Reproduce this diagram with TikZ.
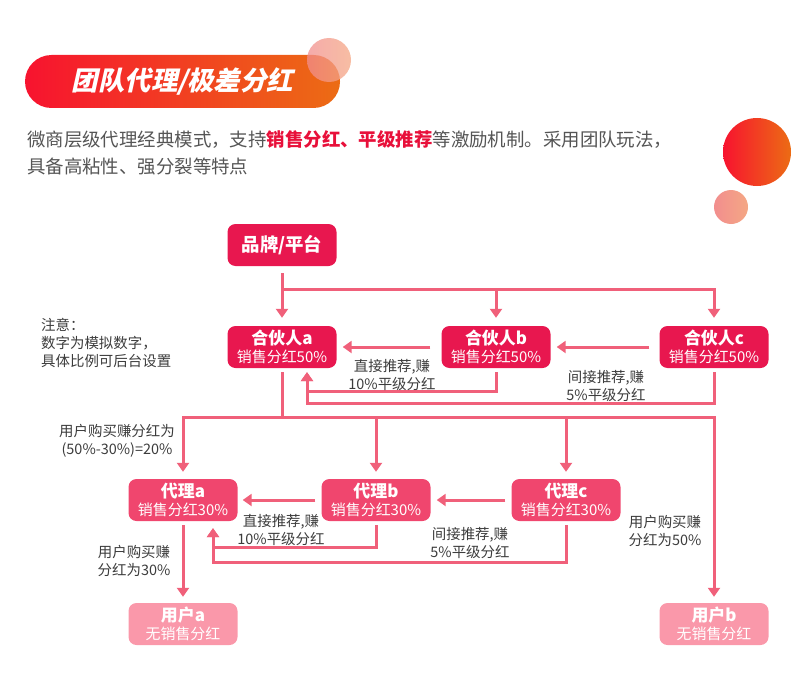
\documentclass[tikz,border=0pt]{standalone}
\usepackage{fontspec}
\setmainfont{Noto Sans CJK SC}
\newfontfamily\titlefont{Noto Sans CJK SC}[BoldFeatures={FakeSlant=0.22}]
\usetikzlibrary{arrows.meta,calc}
\definecolor{pillL}{HTML}{F7132F}
\definecolor{pillR}{HTML}{EC6C14}
\definecolor{peachL}{HTML}{F28E8E}
\definecolor{peachR}{HTML}{F4A784}
\definecolor{textgray}{HTML}{555555}
\definecolor{labelgray}{HTML}{3C3C3C}
\definecolor{hot}{HTML}{E8103A}
\definecolor{partnerred}{HTML}{E8174F}
\definecolor{agentpink}{HTML}{F0466E}
\definecolor{clientpink}{HTML}{FA98AA}
\definecolor{linkred}{HTML}{F0607A}
\begin{document}
\begin{tikzpicture}[x=1bp, y=-1bp,
    box/.style={rounded corners=8bp, minimum width=109bp, minimum height=42bp,
      inner sep=0pt, align=center, text=white, font=\fontsize{15}{18}\selectfont},
    partnerbox/.style={box, fill=partnerred},
    agentbox/.style={box, fill=agentpink},
    clientbox/.style={box, fill=clientpink},
    link/.style={draw=linkred, line width=3bp},
    flow/.style={link, -{Triangle[width=12bp,length=9bp]}},
    note/.style={text=labelgray, font=\fontsize{14.5}{18.5}\selectfont, align=center, inner sep=0pt}]
  \useasboundingbox (0,0) rectangle (800,693);

  % Cabecera
  \node[rounded corners=26.5bp, minimum width=315bp, minimum height=53bp, inner sep=0pt,
    left color=pillL, right color=pillR, text=white,
    font=\titlefont\bfseries\fontsize{26.5}{28}\selectfont] (title) at (182.5,81.5) {团队代理/极差分红};
  \shade[left color=peachL, right color=peachR, opacity=0.75] (329,60) circle (22);
  \shade[left color=pillL, right color=pillR] (757,152) circle (34);
  \shade[left color=peachL, right color=peachR] (731,207) circle (17);

  % Texto de descripcion
  \node[anchor=west, inner sep=0pt, text=textgray, font=\fontsize{18.5}{27}\selectfont] (desc) at (27,140)
    {微商层级代理经典模式，支持\textcolor{hot}{\bfseries 销售分红、平级推荐}等激励机制。采用团队玩法，};
  \node[anchor=west, inner sep=0pt, text=textgray, font=\fontsize{18.5}{27}\selectfont] (desc2) at (27,167)
    {具备高粘性、强分裂等特点};

  % Nota
  \node[note, anchor=west, align=left] (memo) at (41,343) {注意：\\数字为模拟数字，\\具体比例可后台设置};

  % Cajas
  \node[partnerbox, font=\bfseries\fontsize{18.5}{20}\selectfont] (brand) at (282,245) {品牌/平台};
  \node[partnerbox] (pa) at (282,347) {{\bfseries\fontsize{17}{18}\selectfont 合伙人a}\\销售分红50\%};
  \node[partnerbox] (pb) at (496,347) {{\bfseries\fontsize{17}{18}\selectfont 合伙人b}\\销售分红50\%};
  \node[partnerbox] (pc) at (714,347) {{\bfseries\fontsize{17}{18}\selectfont 合伙人c}\\销售分红50\%};
  \node[agentbox] (aa) at (183,500) {{\bfseries\fontsize{17}{18}\selectfont 代理a}\\销售分红30\%};
  \node[agentbox] (ab) at (376,500) {{\bfseries\fontsize{17}{18}\selectfont 代理b}\\销售分红30\%};
  \node[agentbox] (ac) at (566,500) {{\bfseries\fontsize{17}{18}\selectfont 代理c}\\销售分红30\%};
  \node[clientbox] (ua) at (183,624) {{\bfseries\fontsize{17}{18}\selectfont 用户a}\\无销售分红};
  \node[clientbox] (ub) at (714,624) {{\bfseries\fontsize{17}{18}\selectfont 用户b}\\无销售分红};

  % Del品牌 a los socios
  \coordinate (topbus) at (282,289);
  \draw[flow, shorten <=7bp, shorten >=8bp] (brand.south) -- (pa.north);
  \draw[flow, shorten >=8bp] (topbus) -| (pc.north);
  \draw[flow, shorten >=8bp] (topbus -| pb.north) -- (pb.north);

  % Recomendaciones entre socios
  \draw[flow, shorten <=10bp, shorten >=6bp] (pc.west) -- (pb.east);
  \draw[flow, shorten <=11bp, shorten >=6bp] (pb.west) -- (pa.east);
  \coordinate (backb) at (307,391);
  \coordinate (backc) at (307,403);
  \draw[flow, shorten <=4bp, shorten >=4bp] (pb.south) |- (backb) -- (backb |- pa.south);
  \draw[flow, shorten <=4bp, shorten >=4bp] (pc.south) |- (backc) -- (backc |- pa.south);
  \node[note] (directp) at (392,375) {直接推荐,赚\\10\%平级分红};
  \node[note] (indirectp) at (606,386) {间接推荐,赚\\5\%平级分红};

  % Del socio a los agentes
  \coordinate (midbus) at (282,417);
  \draw[link, shorten <=4bp] (pa.south) -- (midbus);
  \draw[flow, shorten >=7bp] (midbus) -| (aa.north);
  \draw[flow, shorten >=7bp] (midbus -| ab.north) -- (ab.north);
  \draw[flow, shorten >=7bp] (midbus -| ac.north) -- (ac.north);
  \draw[flow, shorten >=6bp] (midbus) -| (ub.north);

  % Recomendaciones entre agentes
  \draw[flow, shorten <=6bp, shorten >=6bp] (ac.west) -- (ab.east);
  \draw[flow, shorten <=6bp, shorten >=5bp] (ab.west) -- (aa.east);
  \coordinate (backab) at (213,547);
  \coordinate (backac) at (213,562);
  \draw[flow, shorten <=4bp, shorten >=7bp] (ab.south) |- (backab) -- (backab |- aa.south);
  \draw[flow, shorten <=4bp, shorten >=7bp] (ac.south) |- (backac) -- (backac |- aa.south);
  \node[note] (directa) at (281,530) {直接推荐,赚\\10\%平级分红};
  \node[note] (indirecta) at (470,543) {间接推荐,赚\\5\%平级分红};

  % Usuarios
  \draw[flow, shorten <=4bp, shorten >=6bp] (aa.south) -- (ua.north);
  \node[note] (buyab) at (117,441) {用户购买赚分红为\\(50\%-30\%)=20\%};
  \node[note] (buya) at (134,561) {用户购买赚\\分红为30\%};
  \node[note] (buyb) at (665,531) {用户购买赚\\分红为50\%};
\end{tikzpicture}
\end{document}
